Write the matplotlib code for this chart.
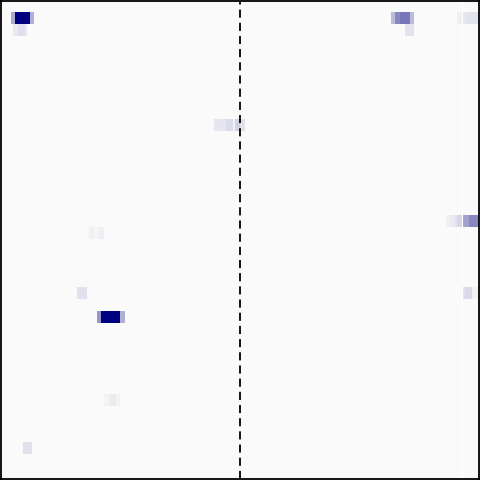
import numpy as np
import matplotlib
matplotlib.use("Agg")
import matplotlib.pyplot as plt
from matplotlib.colors import LinearSegmentedColormap

# grade 40 linhas x 200 colunas, quase tudo zero
n_rows = 40
n_cols = 200

# blocos: linha, coluna inicial, coluna final (exclusiva), valor
blk_row = [1, 1, 1, 1, 1, 1, 1, 1, 1, 1,
           2, 2, 2, 2,
           10, 10, 10, 10, 10,
           18, 18, 18, 18, 18, 18,
           19, 19, 19,
           24, 24, 24, 24,
           26, 26, 26,
           33, 33, 33,
           37]
blk_start = [4, 6, 12, 163, 165, 167, 171, 191, 193, 195,
             5, 7, 10, 169,
             89, 94, 97, 98, 100,
             186, 188, 190, 191, 193, 196,
             37, 39, 41,
             32, 193, 194, 197,
             40, 42, 50,
             43, 45, 48,
             9]
blk_end = [6, 12, 14, 165, 167, 171, 173, 193, 195, 200,
           7, 10, 11, 173,
           94, 97, 98, 100, 102,
           188, 190, 191, 193, 196, 200,
           39, 41, 43,
           36, 194, 197, 200,
           42, 50, 52,
           45, 48, 50,
           13]
blk_val = [0.32, 1.0, 0.30, 0.25, 0.45, 0.52, 0.25, 0.05, 0.08, 0.09,
           0.07, 0.11, 0.07, 0.09,
           0.08, 0.12, 0.03, 0.16, 0.10,
           0.04, 0.07, 0.10, 0.14, 0.35, 0.46,
           0.04, 0.02, 0.05,
           0.10, 0.10, 0.13, 0.03,
           0.40, 1.0, 0.30,
           0.03, 0.06, 0.03,
           0.10]

mat = np.zeros((n_rows, n_cols))
for r, a, b, v in zip(blk_row, blk_start, blk_end, blk_val):
    mat[r, a:b] = v

cmap = LinearSegmentedColormap.from_list("navy_claro", ["#fafafa", "#000080"])

fig = plt.figure(figsize=(4.8, 4.8), dpi=100)
ax = fig.add_axes([1 / 480, 1.5 / 480, 477.5 / 480, 477.5 / 480])
ax.imshow(mat, cmap=cmap, vmin=0, vmax=1, aspect="auto", interpolation="nearest")
ax.axvline(n_cols / 2 - 0.5, color="black", linestyle=(0, (4.5, 2.8)), linewidth=1.3)
ax.axvline(192.5, color="white", linewidth=0.8)
ax.set_xticks([])
ax.set_yticks([])
for s in ax.spines.values():
    s.set_linewidth(1.3)

fig.savefig("out.png", dpi=100)
